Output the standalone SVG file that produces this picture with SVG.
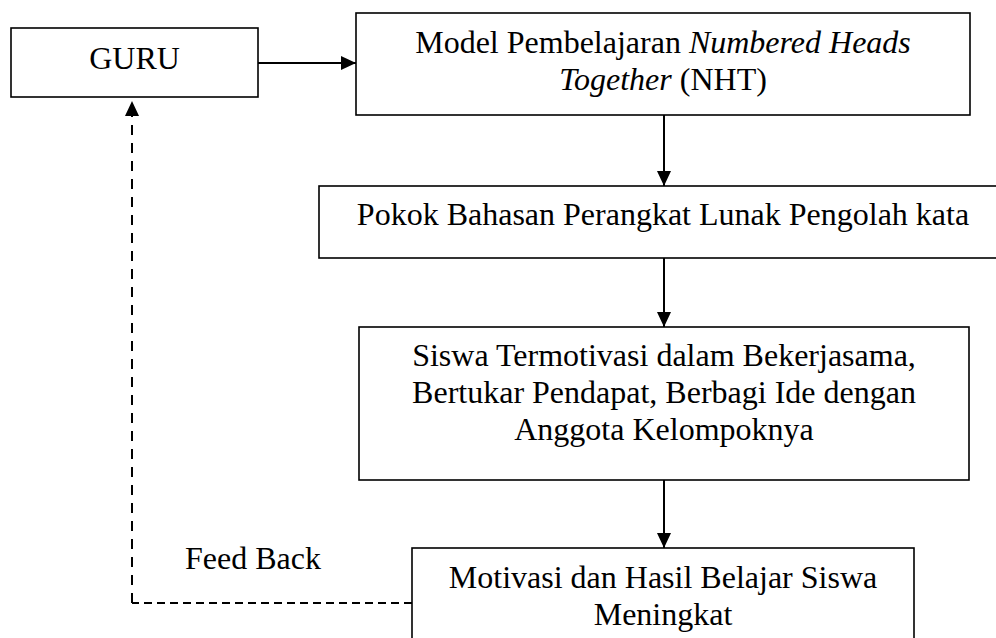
<svg xmlns="http://www.w3.org/2000/svg" width="996" height="638" viewBox="0 0 996 638">
<style>
.box{fill:#fff;stroke:#000;stroke-width:1.6}
.t{font-family:"Liberation Serif","Times New Roman",serif;font-size:32px;fill:#000;text-anchor:middle}
.tl{font-family:"Liberation Serif","Times New Roman",serif;font-size:32px;fill:#000}
.c{fill:none;stroke:#000;stroke-width:2}
.dv{fill:none;stroke:#000;stroke-width:2;stroke-dasharray:10,8}
.dh{fill:none;stroke:#000;stroke-width:2;stroke-dasharray:8,5}
</style>
<defs>
<marker id="ah" markerUnits="userSpaceOnUse" markerWidth="16" markerHeight="14" refX="15" refY="7" orient="auto">
<path d="M0,0 L15,7 L0,14 Z" fill="#000"/>
</marker>
</defs>
<rect width="996" height="638" fill="#fff"/>
<g id="guru">
<rect class="box" x="11" y="28" width="247" height="69"/>
<text class="t" x="134.5" y="69">GURU</text>
</g>
<g id="model">
<rect class="box" x="356" y="13" width="614" height="102"/>
<text class="t" x="663" y="53">Model Pembelajaran <tspan font-style="italic">Numbered Heads</tspan></text>
<text class="t" x="663" y="90"><tspan font-style="italic">Together</tspan> (NHT)</text>
</g>
<g id="pokok">
<rect class="box" x="319" y="186" width="690" height="72"/>
<text class="t" x="663" y="225">Pokok Bahasan Perangkat Lunak Pengolah kata</text>
</g>
<g id="siswa">
<rect class="box" x="359" y="327" width="610" height="153"/>
<text class="t" x="664" y="366">Siswa Termotivasi dalam Bekerjasama,</text>
<text class="t" x="664" y="403">Bertukar Pendapat, Berbagi Ide dengan</text>
<text class="t" x="664" y="440">Anggota Kelompoknya</text>
</g>
<g id="hasil">
<rect class="box" x="412" y="548" width="502" height="100"/>
<text class="t" x="663" y="588">Motivasi dan Hasil Belajar Siswa</text>
<text class="t" x="663" y="625">Meningkat</text>
</g>
<g id="connectors">
<line class="c" x1="258" y1="63" x2="356" y2="63" marker-end="url(#ah)"/>
<line class="c" x1="664" y1="115" x2="664" y2="186" marker-end="url(#ah)"/>
<line class="c" x1="664" y1="258" x2="664" y2="327" marker-end="url(#ah)"/>
<line class="c" x1="664" y1="480" x2="664" y2="548" marker-end="url(#ah)"/>
<line class="dh" x1="412" y1="603" x2="132" y2="603"/>
<line class="dv" x1="132" y1="603" x2="132" y2="101" marker-end="url(#ah)"/>
<text class="tl" x="185" y="569">Feed Back</text>
</g>
</svg>
